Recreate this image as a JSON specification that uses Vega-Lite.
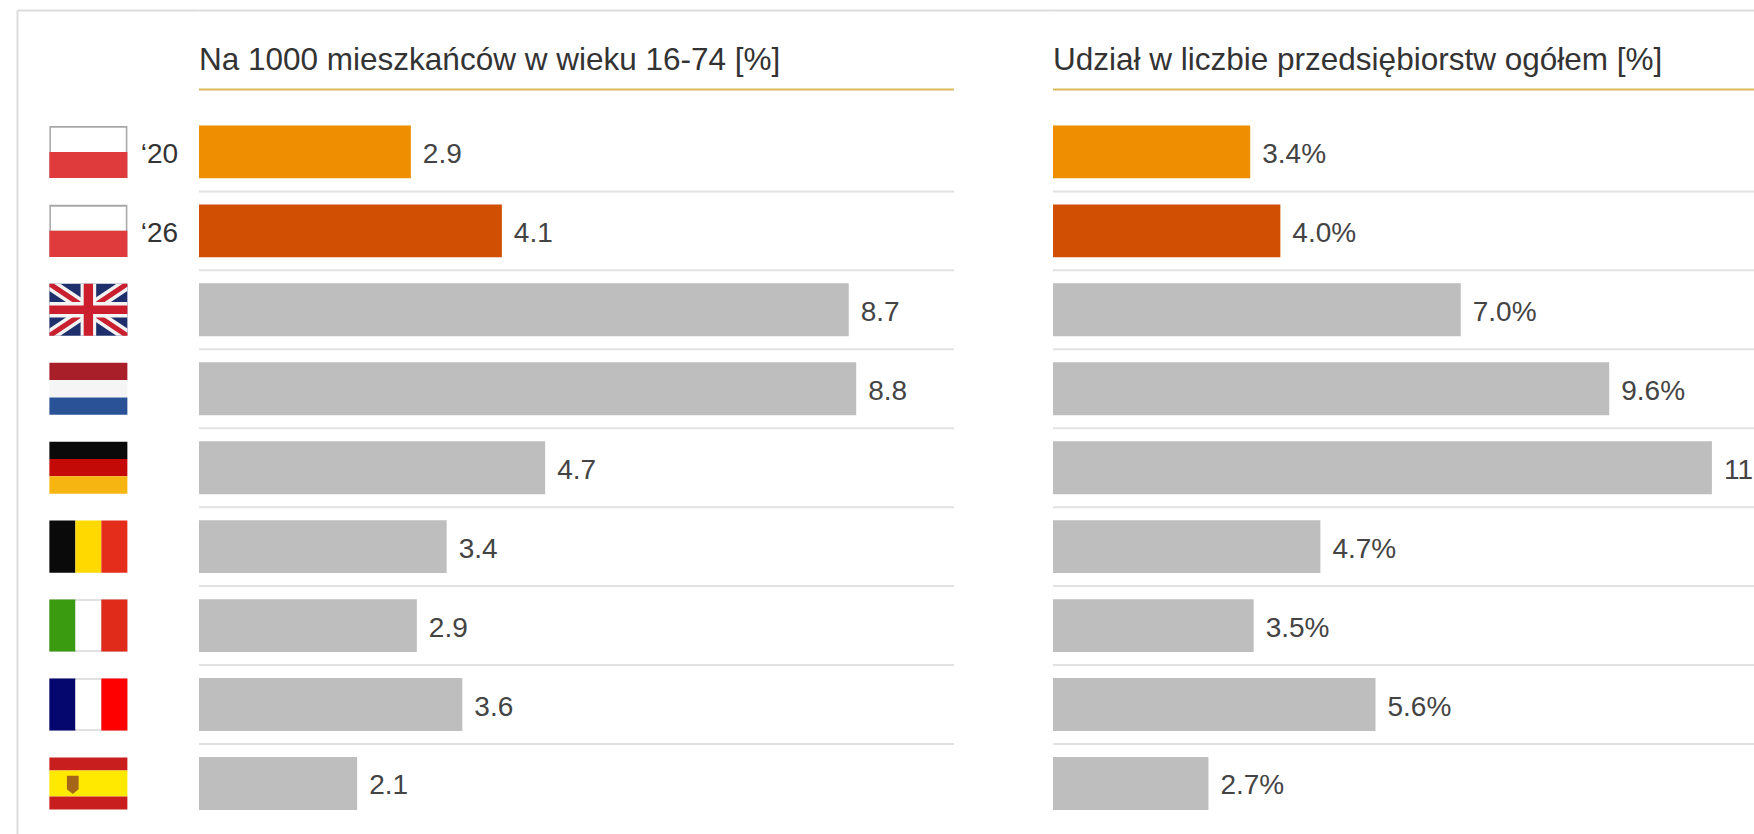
{
"$schema":"https://vega.github.io/schema/vega-lite/v6.json",
"padding":{"left":17,"top":10,"right":0,"bottom":0},
"background":"white",
"spacing":0,
"bounds":"flush",
"config":{"view":{"stroke":null},"font":"Liberation Sans","concat":{"spacing":0}},
"datasets":{
"rows":[
{"kraj":"PL20","rok":"‘20","grupa":"PL 2020","na1000":2.84,"etykietaA":"2.9","udzial":3.40,"etykietaB":"3.4%"},
{"kraj":"PL26","rok":"‘26","grupa":"PL 2026","na1000":4.06,"etykietaA":"4.1","udzial":3.92,"etykietaB":"4.0%"},
{"kraj":"UK","grupa":"inne","na1000":8.71,"etykietaA":"8.7","udzial":7.03,"etykietaB":"7.0%"},
{"kraj":"NL","grupa":"inne","na1000":8.81,"etykietaA":"8.8","udzial":9.59,"etykietaB":"9.6%"},
{"kraj":"DE","grupa":"inne","na1000":4.64,"etykietaA":"4.7","udzial":11.36,"etykietaB":"11"},
{"kraj":"BE","grupa":"inne","na1000":3.32,"etykietaA":"3.4","udzial":4.61,"etykietaB":"4.7%"},
{"kraj":"IT","grupa":"inne","na1000":2.92,"etykietaA":"2.9","udzial":3.46,"etykietaB":"3.5%"},
{"kraj":"FR","grupa":"inne","na1000":3.53,"etykietaA":"3.6","udzial":5.56,"etykietaB":"5.6%"},
{"kraj":"ES","grupa":"inne","na1000":2.12,"etykietaA":"2.1","udzial":2.68,"etykietaB":"2.7%"}
],
"flagi":[
{"kraj":"PL20","czesc":"pl-rama"},{"kraj":"PL20","czesc":"pl-biel"},{"kraj":"PL20","czesc":"pl-czerwien"},
{"kraj":"PL26","czesc":"pl-rama"},{"kraj":"PL26","czesc":"pl-biel"},{"kraj":"PL26","czesc":"pl-czerwien"},
{"kraj":"UK","czesc":"uk-tlo"},{"kraj":"UK","czesc":"uk-biale-skosy"},{"kraj":"UK","czesc":"uk-czerwone-skosy"},{"kraj":"UK","czesc":"uk-bialy-krzyz"},{"kraj":"UK","czesc":"uk-czerwony-krzyz"},
{"kraj":"NL","czesc":"nl-1"},{"kraj":"NL","czesc":"nl-2"},{"kraj":"NL","czesc":"nl-3"},
{"kraj":"DE","czesc":"de-1"},{"kraj":"DE","czesc":"de-2"},{"kraj":"DE","czesc":"de-3"},
{"kraj":"BE","czesc":"be-1"},{"kraj":"BE","czesc":"be-2"},{"kraj":"BE","czesc":"be-3"},
{"kraj":"IT","czesc":"rama-jasna"},{"kraj":"IT","czesc":"it-1"},{"kraj":"IT","czesc":"it-2"},{"kraj":"IT","czesc":"it-3"},
{"kraj":"FR","czesc":"rama-jasna"},{"kraj":"FR","czesc":"fr-1"},{"kraj":"FR","czesc":"fr-2"},{"kraj":"FR","czesc":"fr-3"},
{"kraj":"ES","czesc":"es-1"},{"kraj":"ES","czesc":"es-2"},{"kraj":"ES","czesc":"es-3"},{"kraj":"ES","czesc":"es-herb"}
],
"naglowekA":[{"kraj":"naglowek","tytul":"Na 1000 mieszkańców w wieku 16-74 [%]"}],
"naglowekB":[{"kraj":"naglowek","tytul":"Udział w liczbie przedsiębiorstw ogółem [%]"}]
},
"hconcat":[
{
"width":182,"height":824,
"layer":[
{"data":{"name":"flagi"},
 "mark":{"type":"point","filled":true,"size":6084,"opacity":1,"strokeWidth":0},
 "encoding":{
  "x":{"datum":"flaga","type":"nominal","scale":{"type":"band","domain":["flaga","rok"],"paddingInner":0,"paddingOuter":0.28,"align":0.9},"axis":{"orient":"top","domain":true,"domainColor":"#dcdcdc","domainWidth":2,"ticks":false,"labels":false,"title":null,"grid":false}},
  "y":{"field":"kraj","type":"nominal","sort":null,"scale":{"type":"band","domain":["naglowek","PL20","PL26","UK","NL","DE","BE","IT","FR","ES"],"paddingInner":0,"paddingOuter":0.219,"align":0.68},"axis":{"orient":"left","domain":true,"domainColor":"#dcdcdc","domainWidth":2,"ticks":false,"labels":false,"title":null,"grid":false}},
  "shape":{"field":"czesc","type":"nominal","legend":null,"scale":{
   "domain":["pl-rama","pl-biel","pl-czerwien","uk-tlo","uk-biale-skosy","uk-czerwone-skosy","uk-bialy-krzyz","uk-czerwony-krzyz","nl-1","nl-2","nl-3","de-1","de-2","de-3","be-1","be-2","be-3","it-1","it-2","it-3","fr-1","fr-2","fr-3","es-1","es-2","es-3","es-herb","rama-jasna"],
   "range":[
    "M-1,-0.667L1,-0.667L1,0.667L-1,0.667Z",
    "M-0.96,-0.62L0.96,-0.62L0.96,0L-0.96,0Z",
    "M-1,0L1,0L1,0.667L-1,0.667Z",
    "M-1,-0.667L1,-0.667L1,0.667L-1,0.667Z",
    "M-1,-0.667L-0.72,-0.667L1,0.48L1,0.667L0.72,0.667L-1,-0.48ZM1,-0.667L1,-0.48L-0.72,0.667L-1,0.667L-1,0.48L0.72,-0.667Z",
    "M-1,-0.667L-0.88,-0.667L1,0.59L1,0.667L0.88,0.667L-1,-0.59ZM1,-0.667L1,-0.59L-0.88,0.667L-1,0.667L-1,0.59L0.88,-0.667Z",
    "M-1,-0.2L-0.2,-0.2L-0.2,-0.667L0.2,-0.667L0.2,-0.2L1,-0.2L1,0.2L0.2,0.2L0.2,0.667L-0.2,0.667L-0.2,0.2L-1,0.2Z",
    "M-1,-0.11L-0.12,-0.11L-0.12,-0.667L0.12,-0.667L0.12,-0.11L1,-0.11L1,0.11L0.12,0.11L0.12,0.667L-0.12,0.667L-0.12,0.11L-1,0.11Z",
    "M-1,-0.667L1,-0.667L1,-0.222L-1,-0.222Z","M-1,-0.222L1,-0.222L1,0.222L-1,0.222Z","M-1,0.222L1,0.222L1,0.667L-1,0.667Z",
    "M-1,-0.667L1,-0.667L1,-0.222L-1,-0.222Z","M-1,-0.222L1,-0.222L1,0.222L-1,0.222Z","M-1,0.222L1,0.222L1,0.667L-1,0.667Z",
    "M-1,-0.667L-0.333,-0.667L-0.333,0.667L-1,0.667Z","M-0.333,-0.667L0.333,-0.667L0.333,0.667L-0.333,0.667Z","M0.333,-0.667L1,-0.667L1,0.667L0.333,0.667Z",
    "M-1,-0.667L-0.333,-0.667L-0.333,0.667L-1,0.667Z","M-0.333,-0.64L0.333,-0.64L0.333,0.64L-0.333,0.64Z","M0.333,-0.667L1,-0.667L1,0.667L0.333,0.667Z",
    "M-1,-0.667L-0.333,-0.667L-0.333,0.667L-1,0.667Z","M-0.333,-0.64L0.333,-0.64L0.333,0.64L-0.333,0.64Z","M0.333,-0.667L1,-0.667L1,0.667L0.333,0.667Z",
    "M-1,-0.667L1,-0.667L1,-0.333L-1,-0.333Z","M-1,-0.333L1,-0.333L1,0.333L-1,0.333Z","M-1,0.333L1,0.333L1,0.667L-1,0.667Z",
    "M-0.55,-0.2L-0.25,-0.2L-0.25,0.15L-0.4,0.27L-0.55,0.15Z",
    "M-1,-0.667L1,-0.667L1,0.667L-1,0.667Z"
   ]}},
  "color":{"field":"czesc","type":"nominal","legend":null,"scale":{
   "domain":["pl-rama","pl-biel","pl-czerwien","uk-tlo","uk-biale-skosy","uk-czerwone-skosy","uk-bialy-krzyz","uk-czerwony-krzyz","nl-1","nl-2","nl-3","de-1","de-2","de-3","be-1","be-2","be-3","it-1","it-2","it-3","fr-1","fr-2","fr-3","es-1","es-2","es-3","es-herb","rama-jasna"],
   "range":["#a8a8a8","#ffffff","#df3a3c","#1f2f6b","#f2f2f2","#c8202e","#f4f4f4","#cc1f2d","#a81f2a","#f5f5f5","#2a5296","#0a0a0a","#c40a06","#f7b512","#0a0a0a","#ffd900","#e52d1c","#3a9a10","#ffffff","#e02b1a","#06066f","#ffffff","#ff0000","#c81e1e","#ffe900","#c81e1e","#a5661a","#c4c4c4"]}}
 }},
{"data":{"name":"rows"},
 "transform":[{"filter":"isValid(datum.rok)"}],
 "mark":{"type":"text","fontSize":28,"color":"#333333","align":"center","baseline":"middle","dy":3},
 "encoding":{
  "x":{"datum":"rok","type":"nominal"},
  "y":{"field":"kraj","type":"nominal","sort":null},
  "text":{"field":"rok"}
 }}
]
},
{
"width":854,"height":824,
"layer":[
{"data":{"name":"rows"},
 "transform":[{"filter":"datum.kraj !== 'ES'"}],
 "mark":{"type":"rule","color":"#e2e2e2","strokeWidth":2},
 "encoding":{
  "x":{"datum":0,"type":"quantitative","scale":{"domain":[0,11.448],"nice":false,"zero":false},"axis":{"orient":"top","domain":true,"domainColor":"#dcdcdc","domainWidth":2,"ticks":false,"labels":false,"title":null,"grid":false}},
  "x2":{"datum":10.12},
  "y":{"field":"kraj","type":"nominal","sort":null,"bandPosition":1,"scale":{"domain":["naglowek","PL20","PL26","UK","NL","DE","BE","IT","FR","ES"],"paddingInner":0,"paddingOuter":0.219,"align":0.68},"axis":null}
 }},
{"data":{"name":"naglowekA"},
 "mark":{"type":"rule","color":"#dcb95a","strokeWidth":2},
 "encoding":{"x":{"datum":0,"type":"quantitative"},"x2":{"datum":10.12},"y":{"field":"kraj","type":"nominal","bandPosition":0.71}}},
{"data":{"name":"naglowekA"},
 "mark":{"type":"text","fontSize":31.5,"color":"#333333","align":"left","baseline":"middle"},
 "encoding":{"x":{"datum":0,"type":"quantitative"},"y":{"field":"kraj","type":"nominal","bandPosition":0.342},"text":{"field":"tytul"}}},
{"data":{"name":"rows"},
 "mark":{"type":"bar","height":{"band":0.67}},
 "encoding":{
  "x":{"field":"na1000","type":"quantitative"},
  "y":{"field":"kraj","type":"nominal","sort":null},
  "color":{"field":"grupa","type":"nominal","legend":null,"scale":{"domain":["PL 2020","PL 2026","inne"],"range":["#ee8e00","#d04f02","#bebebe"]}}
 }},
{"data":{"name":"rows"},
 "mark":{"type":"text","fontSize":28,"color":"#444444","align":"left","baseline":"middle","dx":12,"dy":3},
 "encoding":{"x":{"field":"na1000","type":"quantitative"},"y":{"field":"kraj","type":"nominal","sort":null},"text":{"field":"etykietaA"}}}
]
},
{
"width":701,"height":824,
"layer":[
{"data":{"name":"rows"},
 "transform":[{"filter":"datum.kraj !== 'ES'"}],
 "mark":{"type":"rule","color":"#e2e2e2","strokeWidth":2},
 "encoding":{
  "x":{"datum":0,"type":"quantitative","scale":{"domain":[0,12.086],"nice":false,"zero":false},"axis":{"orient":"top","domain":true,"domainColor":"#dcdcdc","domainWidth":2,"ticks":false,"labels":false,"title":null,"grid":false}},
  "x2":{"datum":12.086},
  "y":{"field":"kraj","type":"nominal","sort":null,"bandPosition":1,"scale":{"domain":["naglowek","PL20","PL26","UK","NL","DE","BE","IT","FR","ES"],"paddingInner":0,"paddingOuter":0.219,"align":0.68},"axis":null}
 }},
{"data":{"name":"naglowekB"},
 "mark":{"type":"rule","color":"#dcb95a","strokeWidth":2},
 "encoding":{"x":{"datum":0,"type":"quantitative"},"x2":{"datum":12.086},"y":{"field":"kraj","type":"nominal","bandPosition":0.71}}},
{"data":{"name":"naglowekB"},
 "mark":{"type":"text","fontSize":31.5,"color":"#333333","align":"left","baseline":"middle"},
 "encoding":{"x":{"datum":0,"type":"quantitative"},"y":{"field":"kraj","type":"nominal","bandPosition":0.342},"text":{"field":"tytul"}}},
{"data":{"name":"rows"},
 "mark":{"type":"bar","height":{"band":0.67}},
 "encoding":{
  "x":{"field":"udzial","type":"quantitative"},
  "y":{"field":"kraj","type":"nominal","sort":null},
  "color":{"field":"grupa","type":"nominal","legend":null,"scale":{"domain":["PL 2020","PL 2026","inne"],"range":["#ee8e00","#d04f02","#bebebe"]}}
 }},
{"data":{"name":"rows"},
 "mark":{"type":"text","fontSize":28,"color":"#444444","align":"left","baseline":"middle","dx":12,"dy":3},
 "encoding":{"x":{"field":"udzial","type":"quantitative"},"y":{"field":"kraj","type":"nominal","sort":null},"text":{"field":"etykietaB"}}}
]
}
],
"resolve":{"scale":{"color":"independent","shape":"independent"}}
}
